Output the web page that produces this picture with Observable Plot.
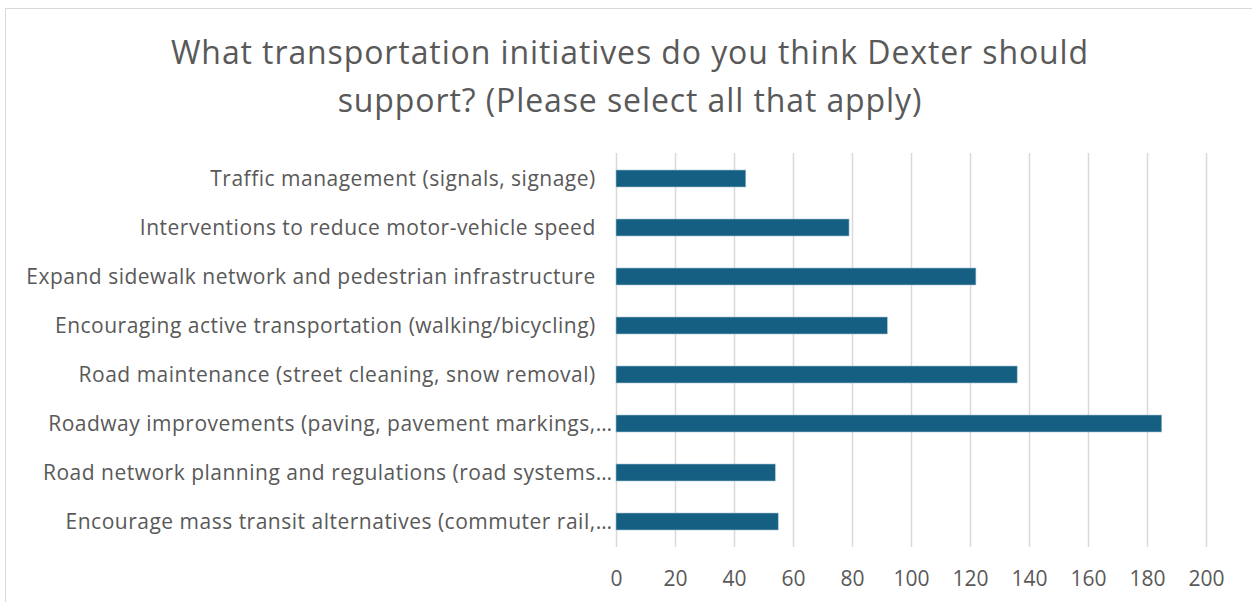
<!DOCTYPE html>
<html>
<head>
<meta charset="utf-8">
<script src="https://cdn.jsdelivr.net/npm/d3@7"></script>
<script src="https://cdn.jsdelivr.net/npm/@observablehq/plot@0.6"></script>
<style>
  html, body { margin: 0; padding: 0; background: #fff; overflow: hidden; }
  body { width: 1252px; height: 602px; position: relative; font-family: "Open Sans", sans-serif; }
  #frame { position: absolute; left: 5px; top: 8px; width: 1300px; height: 700px; border: 1.5px solid #d9d9d9; box-sizing: border-box; }
  #wrap { position: absolute; left: 0; top: 0; width: 1252px; }
  #title { height: 140px; box-sizing: border-box; padding-top: 28px; text-align: center; color: #595959; font-size: 32px; letter-spacing: 0.9px; line-height: 48px; padding-left: 8px; }
  #title div { white-space: nowrap; }
  #chart svg g[aria-label="y-axis tick label"] text { letter-spacing: 0.5px; }
</style>
</head>
<body>
<div id="frame"></div>
<div id="wrap">
  <div id="title"><div>What transportation initiatives do you think Dexter should</div><div>support? (Please select all that apply)</div></div>
  <div id="chart"></div>
</div>
<script>
const categories = [
  "Traffic management (signals, signage)",
  "Interventions to reduce motor-vehicle speed",
  "Expand sidewalk network and pedestrian infrastructure",
  "Encouraging active transportation (walking/bicycling)",
  "Road maintenance (street cleaning, snow removal)",
  "Roadway improvements (paving, pavement markings,…",
  "Road network planning and regulations (road systems…",
  "Encourage mass transit alternatives (commuter rail,…"
];
const values = [44, 79, 122, 92, 136, 185, 54, 55];
const xTicks = [0, 20, 40, 60, 80, 100, 120, 140, 160, 180, 200];

const data = categories.map((c, i) => ({category: c, value: values[i]}));

const chart = Plot.plot({
  width: 1252,
  height: 462,
  marginLeft: 616,
  marginRight: 46,
  marginTop: 13,
  marginBottom: 55,
  style: {fontFamily: "'Open Sans', sans-serif", color: "#595959", background: "transparent"},
  x: {domain: [0, 200], ticks: xTicks, label: null},
  y: {domain: categories, paddingInner: 0.655, paddingOuter: 0.3275, label: null},
  marks: [
    Plot.gridX(xTicks, {stroke: "#d9d9d9", strokeOpacity: 1, strokeWidth: 1.5}),
    Plot.barX(data, {x: "value", y: "category", fill: "#156082", stroke: "#a9c4d3", strokeWidth: 0.6}),
    Plot.axisX(xTicks, {tickSize: 0, tickPadding: 24, fontSize: 21, fill: "#595959", label: null}),
    Plot.axisY({tickSize: 0, tickPadding: 4, fontSize: 21, fill: "#595959", label: null,
      tickFormat: d => d.endsWith("…") ? d : d + "\u2002\u2005"})
  ]
});
document.getElementById("chart").appendChild(chart);
</script>
</body>
</html>
